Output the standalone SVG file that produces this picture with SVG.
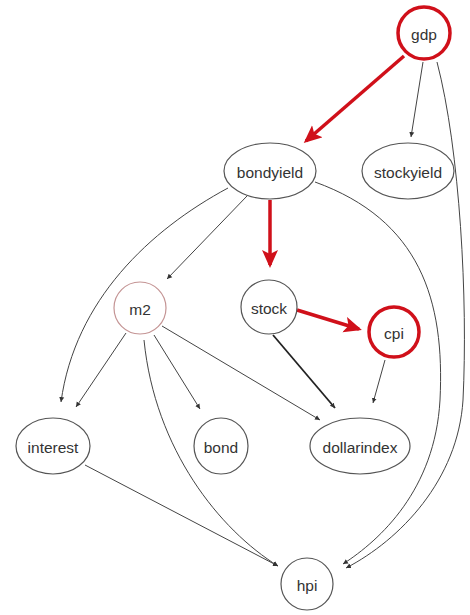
<svg xmlns="http://www.w3.org/2000/svg" width="470" height="615" viewBox="0 0 470 615">
<defs>
<style>
.n{fill:#fff;stroke:#555;stroke-width:1.2}
.r{fill:#fff;stroke:#d0101a;stroke-width:3.5}
.m{fill:#fff;stroke:#c49494;stroke-width:1.2}
text{font-family:"Liberation Sans",Arial,sans-serif;font-size:15.5px;fill:#333;text-anchor:middle;dominant-baseline:central}
.e{fill:none;stroke:#444;stroke-width:1}
.e2{fill:none;stroke:#222;stroke-width:1.8}
.re{fill:none;stroke:#d0101a;stroke-width:3.5}
</style>
<marker id="a" markerUnits="userSpaceOnUse" markerWidth="8" markerHeight="8" refX="5" refY="3" orient="auto"><path d="M0,0.5 L5,3 L0,5.5 z" fill="#333"/></marker>
<marker id="ra" markerUnits="userSpaceOnUse" markerWidth="20" markerHeight="20" refX="15" refY="8" orient="auto"><path d="M0,0 L18,8 L0,16 L4,8 z" fill="#d0101a"/></marker>
</defs>
<g id="edges">
<path class="re" d="M404,56 L306,141" marker-end="url(#ra)"/>
<path class="e" d="M423,62 L411,137" marker-end="url(#a)"/>
<path class="e" d="M437,62 C460,150 468,300 463,400 C458,480 400,540 346,568" marker-end="url(#a)"/>
<path class="e" d="M315,182 C420,220 445,300 440,400 C435,490 380,540 343,564" marker-end="url(#a)"/>
<path class="e" d="M228,188 C150,230 75,300 61,402" marker-end="url(#a)"/>
<path class="e" d="M247,196 L167,279" marker-end="url(#a)"/>
<path class="re" d="M270,200 L270,265" marker-end="url(#ra)"/>
<path class="re" d="M297,310 L359,329" marker-end="url(#ra)"/>
<path class="e2" d="M273,335 L335,408" marker-end="url(#a)"/>
<path class="e" d="M385,360 L373,403" marker-end="url(#a)"/>
<path class="e" d="M126,333 L76,407" marker-end="url(#a)"/>
<path class="e" d="M144,340 C155,450 220,530 278,566" marker-end="url(#a)"/>
<path class="e" d="M154,335 L200,409" marker-end="url(#a)"/>
<path class="e" d="M162,326 L320,420" marker-end="url(#a)"/>
<path class="e" d="M85,465 L278,566" marker-end="url(#a)"/>
</g>
<g id="gdp"><circle class="r" cx="424" cy="33" r="26"/><text x="424" y="34">gdp</text></g>
<g id="bondyield"><ellipse class="n" cx="270" cy="171" rx="46" ry="28"/><text x="270" y="172">bondyield</text></g>
<g id="stockyield"><ellipse class="n" cx="408" cy="171" rx="46" ry="28"/><text x="408" y="172">stockyield</text></g>
<g id="m2"><circle class="m" cx="140" cy="308" r="26"/><text x="140" y="309">m2</text></g>
<g id="stock"><ellipse class="n" cx="269" cy="307" rx="28" ry="27"/><text x="269" y="308">stock</text></g>
<g id="cpi"><circle class="r" cx="394" cy="332" r="25"/><text x="394" y="333">cpi</text></g>
<g id="interest"><ellipse class="n" cx="53" cy="446" rx="37" ry="28"/><text x="53" y="447">interest</text></g>
<g id="bond"><ellipse class="n" cx="221" cy="446" rx="27" ry="28"/><text x="221" y="447">bond</text></g>
<g id="dollarindex"><ellipse class="n" cx="360" cy="446" rx="50" ry="28"/><text x="360" y="447">dollarindex</text></g>
<g id="hpi"><circle class="n" cx="307" cy="584" r="26"/><text x="307" y="585">hpi</text></g>
</svg>
